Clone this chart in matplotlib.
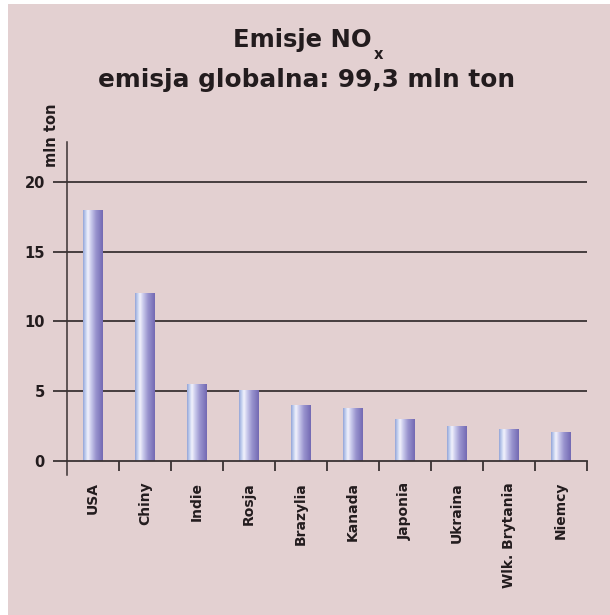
import numpy as np
import matplotlib
matplotlib.use("Agg")
import matplotlib.pyplot as plt
from matplotlib.colors import LinearSegmentedColormap
from matplotlib.patches import Rectangle

# NOx emissions by country, million tonnes
countries = ["USA", "Chiny", "Indie", "Rosja", "Brazylia", "Kanada",
             "Japonia", "Ukraina", "Wlk. Brytania", "Niemcy"]
emissions = [18.0, 12.0, 5.5, 5.1, 4.0, 3.8, 3.0, 2.5, 2.3, 2.1]
y_ticks = [0, 5, 10, 15, 20]

title_main = "Emisje NO"
title_sub = "x"
title_line2 = "emisja globalna: 99,3 mln ton"
y_label = "mln ton"

BG = "#e3d0d1"
INK = "#231c1e"
LINE = "#3a3233"

W, H = 610, 615
fig = plt.figure(figsize=(W / 100, H / 100), dpi=100, facecolor="white")
# pink panel with a thin white margin on the left and top
fig.patches.append(Rectangle((8 / W, 0), 1 - 8 / W, 1 - 4 / H,
                             transform=fig.transFigure, facecolor=BG,
                             edgecolor="none", zorder=-10))

ax = fig.add_axes([67 / W, (H - 461) / H, (587 - 67) / W, (461 - 142) / H])
ax.set_facecolor("none")
ax.set_zorder(1)

x = np.arange(len(countries))

# horizontal grid lines
for v in y_ticks[1:]:
    ax.axhline(v, color=LINE, lw=1.3, zorder=1)

# bars with a cylindrical shading
cmap = LinearSegmentedColormap.from_list("cyl", [
    (0.00, (0.58, 0.64, 0.84)),
    (0.10, (0.72, 0.78, 0.92)),
    (0.25, (0.95, 0.95, 0.99)),
    (0.40, (0.80, 0.80, 0.93)),
    (0.65, (0.60, 0.58, 0.81)),
    (1.00, (0.45, 0.41, 0.70)),
])
grad = np.linspace(0, 1, 256).reshape(1, -1)
bars = ax.bar(x, emissions, width=0.38, color="none", edgecolor="none", zorder=2)
for b in bars:
    x0, y0 = b.get_x(), b.get_y()
    im = ax.imshow(grad, cmap=cmap, aspect="auto", zorder=2,
                   extent=(x0, x0 + b.get_width(), y0, y0 + b.get_height()),
                   interpolation="bilinear")
    im.set_clip_path(b)
ax.set_xlim(-0.5, len(countries) - 0.5)
ax.set_ylim(0, 22.85)

# spines
for s in ("top", "right"):
    ax.spines[s].set_visible(False)
ax.spines["left"].set_color(LINE)
ax.spines["left"].set_linewidth(1.1)
ax.spines["bottom"].set_color(LINE)
ax.spines["bottom"].set_linewidth(1.3)
# extend the vertical axis a little below the baseline
ax.plot([-0.5, -0.5], [0, -1.0], color=LINE, lw=1.1, clip_on=False, zorder=3)

# y ticks
ax.set_yticks(y_ticks)
ax.tick_params(axis="y", direction="out", length=10, width=1.3, color=LINE,
               pad=6, labelsize=10.5, labelcolor=INK)
for t in ax.get_yticklabels():
    t.set_fontweight("bold")

# x ticks: labels at centres, small marks at category boundaries
ax.set_xticks(x)
ax.set_xticklabels(countries, rotation=90, fontsize=10, fontweight="bold",
                   color=INK, va="top")
ax.tick_params(axis="x", which="major", length=0, pad=15)
ax.set_xticks(np.arange(0.5, len(countries), 1.0), minor=True)
ax.tick_params(axis="x", which="minor", direction="out", length=7.5,
               width=1.3, color=LINE)

fig.text(51 / W, 1 - 135 / H, y_label, rotation=90, ha="center", va="center",
         fontsize=10.5, fontweight="bold", color=INK)

# title: main part plus a lowered subscript
t1 = fig.text(302 / W, 1 - 47 / H, title_main, ha="center", va="baseline",
              fontsize=17.5, fontweight="bold", color=INK)
renderer = fig.canvas.get_renderer()
bb = t1.get_window_extent(renderer)
fig.text(bb.x1 + 2, H - 59, title_sub, transform=None, ha="left",
         va="baseline", fontsize=10.5, fontweight="bold", color=INK)
fig.text(306 / W, 1 - 87 / H, title_line2, ha="center", va="baseline",
         fontsize=17.8, fontweight="bold", color=INK)

fig.savefig("out.png", dpi=100, facecolor="white")
